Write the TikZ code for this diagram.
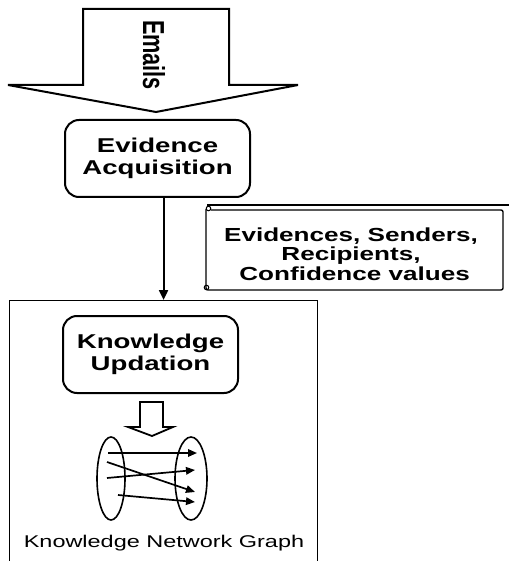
\documentclass[tikz,border=0pt]{standalone}
\usepackage{fontspec}
\setmainfont{Liberation Sans}[FakeStretch=1.38]
\newfontfamily\plainfont{Liberation Sans}
\usetikzlibrary{arrows.meta,shapes.geometric,calc}
\begin{document}
\begin{tikzpicture}[x=1pt,y=-1pt,
  box/.style={draw,line width=2pt,rounded corners=14pt,align=center,
    font=\fontsize{20}{22.5}\selectfont\bfseries,inner sep=0pt},
  hollow/.style={draw,line width=2pt,fill=white,line join=miter},
  oval/.style={draw,ellipse,line width=1.6pt,inner sep=0pt},
  link/.style={line width=1.7pt,-{Triangle[length=9pt,width=7.5pt]}}]
\path[use as bounding box] (0,0) rectangle (509,561);
\clip (0,0) rectangle (509,561);
% big input arrow
\draw[hollow] (83,9) -- (229,9) -- (229,85) -- (298,85) -- (156,112) -- (8,85) -- (83,85) -- cycle;
\node[rotate=-90] (em) at (154,55) {\plainfont\fontsize{21.7}{24}\selectfont\bfseries\scalebox{1}[1.4]{Emails}};
% evidence acquisition
\node[box,minimum width=185pt,minimum height=77pt] (ea) at (157.5,158.5) {Evidence\\Acquisition};
% enclosing box (bottom cut off)
\node[draw,line width=1.1pt,minimum width=308pt,minimum height=290pt,anchor=north west,inner sep=0pt] (kn) at (9,300) {};
\draw[line width=2pt,-{Triangle[length=10pt,width=9pt]}] (ea.south -| kn.north) -- (kn.north);
% scroll
\draw[line width=1.4pt] (207,205) -- (509,205);
\draw[line width=1.4pt,rounded corners=2pt] (206,209) -- (206,290) -- (503,290) -- (503,210) -- (211,210);
\draw[line width=1pt] (208.5,208.5) circle (2.3);
\draw[line width=1pt] (206.5,287.5) circle (2.3);
\node[align=center,font=\fontsize{18.9}{19.3}\selectfont\bfseries] (sc) at (351,254) {Evidences, Senders,\\Recipients,\\\ Confidence values};
% knowledge updation
\node[box,minimum width=175pt,minimum height=77pt] (ku) at (150.5,354.5) {Knowledge\\Updation};
\draw[hollow,line width=1.8pt] (140,402) -- (163,402) -- (163,427) -- (173,427) -- (152,436) -- (128,427) -- (140,427) -- cycle;
% graph
\node[oval,minimum width=28pt,minimum height=83pt] (L) at (111,478.5) {};
\node[oval,minimum width=32pt,minimum height=83pt] (R) at (191,478.5) {};
\coordinate (a1) at (108,453); \coordinate (b1) at (197,453);
\coordinate (a2) at (107,462); \coordinate (b2) at (195,492);
\coordinate (a3) at (107,478); \coordinate (b3) at (195,470);
\coordinate (a4) at (118,495); \coordinate (b4) at (195,502);
\draw[link] (a1) -- (b1);
\draw[link] (a2) -- (b2);
\draw[link] (a3) -- (b3);
\draw[link] (a4) -- (b4);
\node[font=\fontsize{17}{20}\selectfont] (kg) at (164,543) {Knowledge Network Graph};
\end{tikzpicture}
\end{document}
